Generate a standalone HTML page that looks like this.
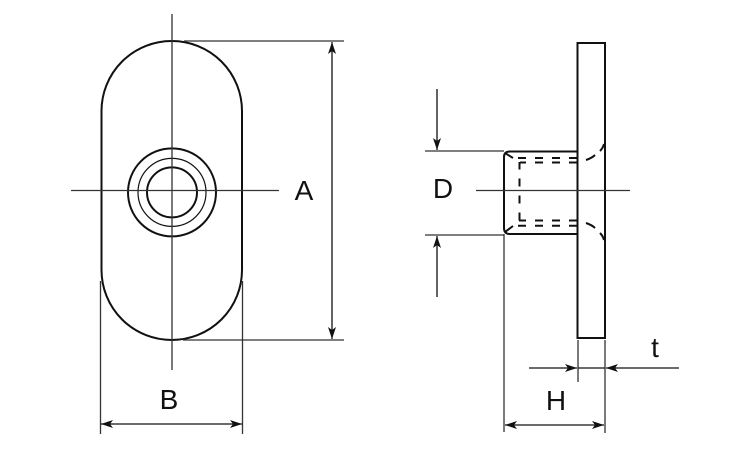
<!DOCTYPE html>
<html>
<head>
<meta charset="utf-8">
<style>
html,body{margin:0;padding:0;background:#fff}
svg{display:block}
text{font-family:"Liberation Sans",sans-serif;font-size:28px;fill:#111;text-anchor:middle}
</style>
</head>
<body>
<svg width="750" height="450" viewBox="0 0 750 450" xmlns="http://www.w3.org/2000/svg">
<defs>
<marker id="e" markerUnits="userSpaceOnUse" markerWidth="14" markerHeight="10" refX="12" refY="4" orient="auto-start-reverse">
<path d="M0 0L12 4L0 8L3 4Z" fill="#111"/>
</marker>
</defs>

<!-- Front view -->
<g fill="none" stroke="#111" stroke-width="2">
<path d="M101.5 111A70.250 70 0 0 1 242 111V270A70.250 70 0 0 1 101.500 270Z"/>
<circle cx="172" cy="192.400" r="44"/>
<circle cx="172" cy="192.400" r="25"/>
<circle cx="172" cy="192.400" r="34" stroke-width="1.200"/>
</g>
<g fill="none" stroke="#333" stroke-width="1.300">
<path d="M172 14V370M71 190.500H279"/>
<path d="M184 41H344M183 340H344"/>
<path d="M100.500 281V434M242.500 281V434"/>
</g>
<g fill="none" stroke="#111" stroke-width="1.300">
<path d="M332 42V339" marker-start="url(#e)" marker-end="url(#e)"/>
<path d="M101 424H242" marker-start="url(#e)" marker-end="url(#e)"/>
</g>

<!-- Side view -->
<g fill="none" stroke="#111" stroke-width="2">
<rect x="577.500" y="43" width="27.500" height="295"/>
<path d="M577 151.500H510Q504 151.500 504 157V228Q504 234 510 234H577"/>
<path d="M505 153L513 158M505 232L513 226"/>
<g stroke-dasharray="8 9">
<path d="M577 158H514"/>
<path d="M577 162.500H520"/>
<path d="M519.500 220.500V162"/>
<path d="M577 220.500H519"/>
<path d="M577 225.700H514"/>
</g>
<path d="M586 160Q592 158 595 155" />
<path d="M600 151Q603 148 604 144" />
<path d="M586 223Q592 225 595 228" />
<path d="M600 233Q603 236 604 240" />
</g>
<g fill="none" stroke="#333" stroke-width="1.300">
<path d="M476 190.500H630"/>
<path d="M425 151H504M425 235H504"/>
<path d="M504 234V432M605 340V433M578 340V382"/>
</g>
<g fill="none" stroke="#111" stroke-width="1.300">
<path d="M437 89V150" marker-end="url(#e)"/>
<path d="M437 297V236" marker-end="url(#e)"/>
<path d="M529 368H577" marker-end="url(#e)"/>
<path d="M679 368H606" marker-end="url(#e)"/>
<path d="M505 425H604" marker-start="url(#e)" marker-end="url(#e)"/>
<path d="M578 368H605"/>
</g>

<text x="304" y="200">A</text>
<text x="169" y="409">B</text>
<text x="443" y="198">D</text>
<text x="556" y="410">H</text>
<text x="655" y="357">t</text>
</svg>
</body>
</html>
